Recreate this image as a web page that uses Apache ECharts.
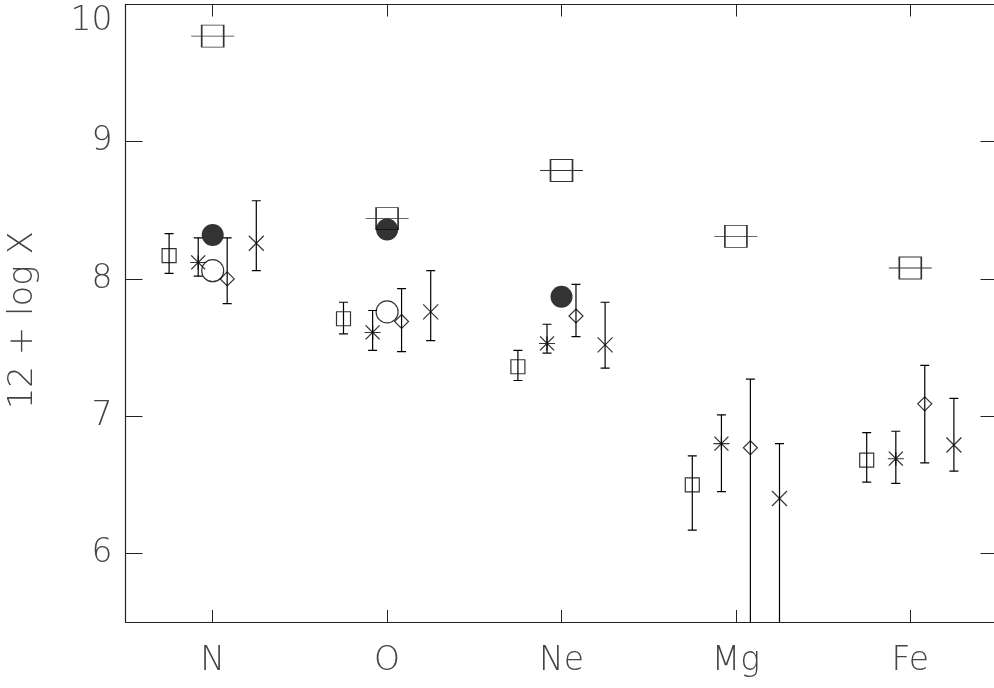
<!DOCTYPE html>
<html>
<head>
<meta charset="utf-8">
<script src="https://cdn.jsdelivr.net/npm/echarts@6/dist/echarts.min.js"></script>
<style>html,body{margin:0;padding:0;background:#fff}#c{width:994px;height:688px}</style>
</head>
<body>
<div id="c"></div>
<script>
// ---- data ----
const categories = ['N', 'O', 'Ne', 'Mg', 'Fe'];
const yTicks = [6, 7, 8, 9, 10];
const yAxisName = '12 + log X';

// large squares with bar
const refSquare = [9.77, 8.44, 8.79, 8.31, 8.08];
// filled circles
const filledCircle = [8.32, 8.36, 7.87, null, null];
// open circles
const openCircle = [8.06, 7.76, null, null, null];

// small squares
const sqVal = [8.17, 7.71, 7.36, 6.50, 6.68];
const sqLo  = [8.04, 7.60, 7.26, 6.17, 6.52];
const sqHi  = [8.33, 7.83, 7.48, 6.71, 6.88];
// asterisks
const asVal = [8.12, 7.61, 7.53, 6.80, 6.69];
const asLo  = [8.02, 7.48, 7.46, 6.45, 6.51];
const asHi  = [8.30, 7.77, 7.67, 7.01, 6.89];
// diamonds
const diVal = [8.00, 7.69, 7.73, 6.77, 7.09];
const diLo  = [7.82, 7.47, 7.58, 5.00, 6.66];
const diHi  = [8.30, 7.93, 7.96, 7.27, 7.37];
// crosses
const crVal = [8.26, 7.76, 7.52, 6.40, 6.79];
const crLo  = [8.06, 7.55, 7.35, 5.00, 6.60];
const crHi  = [8.57, 8.06, 7.83, 6.80, 7.13];

// ---- layout helpers ----
const OFF = { sq: -0.25, as: -0.083, di: 0.083, cr: 0.25 };
const xTickVals = categories.map((c, i) => i + 1);

function pts(vals, off) {
  return vals.map((v, i) => v == null ? null : [i + 1 + off, v]).filter(d => d);
}
function errs(lo, hi, off) {
  return lo.map((l, i) => [i + 1 + off, l, hi[i]]);
}
function errSeries(lo, hi, off) {
  return {
    type: 'custom',
    clip: true,
    silent: true,
    z: 2,
    encode: { x: 0, y: [1, 2] },
    data: errs(lo, hi, off),
    renderItem: function (params, api) {
      const x = api.value(0), l = api.value(1), h = api.value(2);
      const pH = api.coord([x, h]), pL = api.coord([x, l]);
      const w = 4.5;
      const st = { stroke: '#000', lineWidth: 1.2 };
      return {
        type: 'group',
        children: [
          { type: 'line', shape: { x1: pH[0], y1: pH[1], x2: pL[0], y2: pL[1] }, style: st },
          { type: 'line', shape: { x1: pH[0] - w, y1: pH[1], x2: pH[0] + w, y2: pH[1] }, style: st },
          { type: 'line', shape: { x1: pL[0] - w, y1: pL[1], x2: pL[0] + w, y2: pL[1] }, style: st }
        ]
      };
    }
  };
}
const lineStyleMark = { color: 'transparent', borderColor: '#000', borderWidth: 1.2 };
function markSeries(data, symbol, size, style, z) {
  return {
    type: 'scatter', data: data, symbol: symbol, symbolSize: size,
    itemStyle: style, z: z || 3, silent: true, animation: false
  };
}

const font = '"DejaVu Sans", sans-serif';
const txt = '#444';

const option = {
  backgroundColor: '#fff',
  animation: false,
  grid: { left: 125.5, top: 4.5, right: -3.5, bottom: 66, outerBoundsMode: 'none', containLabel: false },
  xAxis: [
    {
      type: 'value', min: 0.5, max: 5.5, position: 'bottom',
      axisLine: { show: true, lineStyle: { color: '#222', width: 1.2 } },
      axisTick: { show: true, inside: true, length: 12, customValues: xTickVals, lineStyle: { color: '#222', width: 1 } },
      axisLabel: {
        customValues: xTickVals, margin: 23,
        formatter: v => categories[Math.round(v) - 1],
        fontFamily: font, fontSize: 33, fontWeight: 200, color: txt
      },
      splitLine: { show: false }
    },
    {
      type: 'value', min: 0.5, max: 5.5, position: 'top',
      axisLine: { show: true, lineStyle: { color: '#222', width: 1.2 } },
      axisTick: { show: true, inside: true, length: 12, customValues: xTickVals, lineStyle: { color: '#222', width: 1 } },
      axisLabel: { show: false },
      splitLine: { show: false }
    }
  ],
  yAxis: [
    {
      type: 'value', min: 5.5, max: 10, position: 'left',
      name: yAxisName, nameLocation: 'middle', nameGap: 85, nameRotate: 90,
      nameTextStyle: { fontFamily: font, fontSize: 34, fontWeight: 200, color: txt, padding: [0, 14, 0, 0] },
      axisLine: { show: true, lineStyle: { color: '#222', width: 1.2 } },
      axisTick: { show: true, inside: true, length: 17, customValues: yTicks, lineStyle: { color: '#222', width: 1 } },
      axisLabel: {
        customValues: yTicks, margin: 13, verticalAlignMaxLabel: 'top',
        fontFamily: font, fontSize: 33, fontWeight: 200, color: txt
      },
      splitLine: { show: false }
    },
    {
      type: 'value', min: 5.5, max: 10, position: 'right',
      axisLine: { show: true, lineStyle: { color: '#222', width: 1.2 } },
      axisTick: { show: true, inside: true, length: 17, customValues: yTicks, lineStyle: { color: '#222', width: 1 } },
      axisLabel: { show: false },
      splitLine: { show: false }
    }
  ],
  series: [
    markSeries(pts(refSquare, 0), 'path://M0,11L43,11M10.5,0L32.5,0L32.5,22L10.5,22Z', [43, 22], lineStyleMark, 2),
    markSeries(pts(filledCircle, 0), 'circle', 22, { color: '#000' }, 4),
    markSeries(pts(openCircle, 0), 'circle', 22, lineStyleMark, 4),
    errSeries(sqLo, sqHi, OFF.sq),
    markSeries(pts(sqVal, OFF.sq), 'rect', 14, lineStyleMark),
    errSeries(asLo, asHi, OFF.as),
    markSeries(pts(asVal, OFF.as), 'path://M0,7L16,7M1,0L15,14M1,14L15,0M8,0L8,14', [16, 14], lineStyleMark),
    errSeries(diLo, diHi, OFF.di),
    markSeries(pts(diVal, OFF.di), 'diamond', 14, lineStyleMark),
    errSeries(crLo, crHi, OFF.cr),
    markSeries(pts(crVal, OFF.cr), 'path://M0,0L15,15M0,15L15,0', 15, lineStyleMark)
  ]
};

const chart = echarts.init(document.getElementById('c'), null, { renderer: 'canvas' });
chart.setOption(option);
</script>
</body>
</html>
